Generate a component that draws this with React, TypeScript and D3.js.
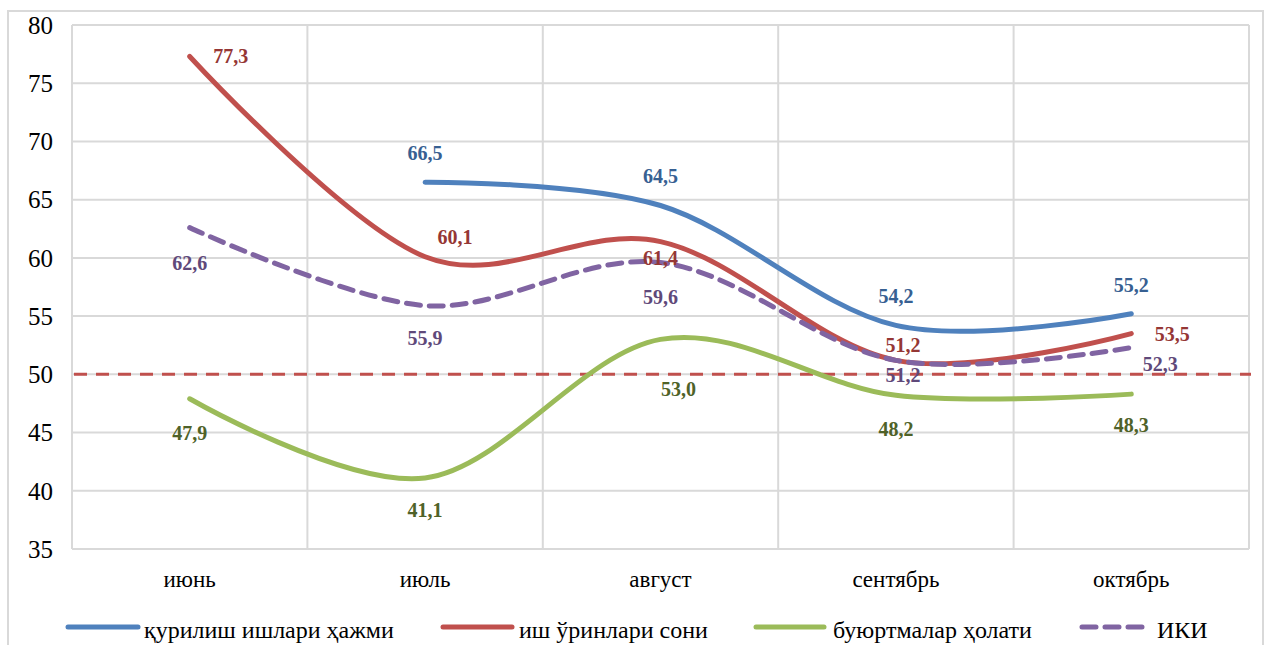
import React from 'react';
import * as d3 from 'd3';

const categories = ['июнь', 'июль', 'август', 'сентябрь', 'октябрь'];
const yTicks = [35, 40, 45, 50, 55, 60, 65, 70, 75, 80];
const seriesNames = ['қурилиш ишлари ҳажми', 'иш ўринлари сони', 'буюртмалар ҳолати', 'ИКИ'];
const volumeValues: (number | null)[] = [null, 66.5, 64.5, 54.2, 55.2];
const jobsValues: (number | null)[] = [77.3, 60.1, 61.4, 51.2, 53.5];
const ordersValues: (number | null)[] = [47.9, 41.1, 53.0, 48.2, 48.3];
const ikiValues: (number | null)[] = [62.6, 55.9, 59.6, 51.2, 52.3];
const thresholdValue = 50;

// label offsets (layout only): [dx, dy] relative to point, label centre
const volumeLabelOffsets = [[0, 0], [0, -29], [0, -29], [0, -29], [0, -29]];
const jobsLabelOffsets = [[41, 0], [30, -20], [0, 16], [7, -15], [41, 0]];
const ordersLabelOffsets = [[0, 34], [0, 32], [18, 50], [0, 34], [0, 31]];
const ikiLabelOffsets = [[0, 35], [0, 32], [0, 34], [7, 15], [29, 16]];

const seriesStyle = [
  { values: volumeValues, line: '#4F81BD', label: '#376092', dash: null, offsets: volumeLabelOffsets },
  { values: jobsValues, line: '#C0504D', label: '#953735', dash: null, offsets: jobsLabelOffsets },
  { values: ordersValues, line: '#9BBB59', label: '#4F6228', dash: null, offsets: ordersLabelOffsets },
  { values: ikiValues, line: '#8064A2', label: '#5F497A', dash: '14 9', offsets: ikiLabelOffsets },
];

const W = 1267;
const H = 645;
const plotLeft = 72;
const plotRight = 1249;
const plotTop = 25;
const plotBottom = 549;

const fmt = (v: number) => v.toFixed(1).replace('.', ',');

export default function App() {
  const x = d3.scaleBand<string>().domain(categories).range([plotLeft, plotRight]).padding(0);
  const y = d3.scaleLinear().domain([35, 80]).range([plotBottom, plotTop]);
  const cx = (c: string) => (x(c) as number) + x.bandwidth() / 2;

  const lineGen = d3
    .line<[string, number | null]>()
    .defined((d) => d[1] != null)
    .x((d) => cx(d[0]))
    .y((d) => y(d[1] as number))
    .curve(d3.curveCardinal.tension(0));

  const gridColor = '#D9D9D9';
  const fontStyle = { fontFamily: "'Liberation Serif', Tinos, 'DejaVu Serif', serif" };

  const boundaries = categories.map((c) => x(c) as number).concat([plotRight]);

  const legendItems = [
    { x1: 68, x2: 138, tx: 144 },
    { x1: 443, x2: 512, tx: 519 },
    { x1: 756, x2: 824, tx: 833 },
    { x1: 1082, x2: 1144, tx: 1157 },
  ];

  return (
    <svg
      width={W}
      height={H}
      style={{ position: 'absolute', left: 0, top: 0, background: '#fff' }}
    >
      <rect x={8} y={11} width={1255} height={660} fill="#fff" stroke={gridColor} strokeWidth={2} />
      {yTicks.map((t) => (
        <line key={'h' + t} x1={plotLeft} x2={plotRight} y1={y(t)} y2={y(t)} stroke={gridColor} strokeWidth={2} />
      ))}
      {boundaries.map((b, i) => (
        <line key={'v' + i} x1={b} x2={b} y1={plotTop} y2={plotBottom} stroke={gridColor} strokeWidth={2} />
      ))}
      {yTicks.map((t) => (
        <text key={'yt' + t} x={53} y={y(t)} dy="0.35em" textAnchor="end" fontSize={25} fill="#000" style={fontStyle}>
          {t}
        </text>
      ))}
      {categories.map((c) => (
        <text key={'xc' + c} x={cx(c)} y={587} textAnchor="middle" fontSize={23} fill="#000" style={fontStyle}>
          {c}
        </text>
      ))}
      <line
        x1={plotLeft + 2}
        x2={plotRight + 2}
        y1={y(thresholdValue)}
        y2={y(thresholdValue)}
        stroke="#C0504D"
        strokeWidth={3}
        strokeDasharray="13 9"
      />
      {seriesStyle.map((s, i) => (
        <path
          key={'s' + i}
          d={lineGen(categories.map((c, j) => [c, s.values[j]] as [string, number | null])) || ''}
          fill="none"
          stroke={s.line}
          strokeWidth={5}
          strokeLinecap="round"
          strokeDasharray={s.dash || undefined}
        />
      ))}
      {seriesStyle.map((s, i) =>
        s.values.map((v, j) =>
          v == null ? null : (
            <text
              key={'l' + i + '-' + j}
              x={cx(categories[j]) + s.offsets[j][0]}
              y={y(v) + s.offsets[j][1]}
              dy="0.35em"
              textAnchor="middle"
              fontSize={20}
              fontWeight="bold"
              fill={s.label}
              style={fontStyle}
            >
              {fmt(v)}
            </text>
          )
        )
      )}
      {seriesStyle.map((s, i) => (
        <g key={'lg' + i}>
          <line
            x1={legendItems[i].x1}
            x2={legendItems[i].x2}
            y1={627}
            y2={627}
            stroke={s.line}
            strokeWidth={5}
            strokeLinecap="round"
            strokeDasharray={s.dash ? '14 9' : undefined}
          />
          <text x={legendItems[i].tx} y={638} fontSize={24} fill="#000" style={fontStyle}>
            {seriesNames[i]}
          </text>
        </g>
      ))}
    </svg>
  );
}
